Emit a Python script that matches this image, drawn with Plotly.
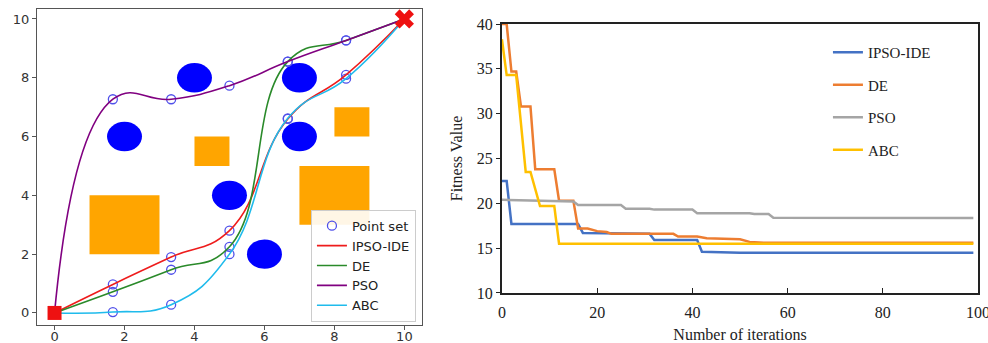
import plotly.graph_objects as go

# ---------------- Left panel data (path planning) ----------------
wp_x = [0, 1.667, 3.333, 5.0, 6.667, 8.333, 10]
ipso_y = [0, 0.97, 1.90, 2.80, 6.60, 8.10, 10]
de_y = [0, 0.72, 1.47, 2.25, 8.55, 9.27, 10]
pso_y = [0, 7.27, 7.27, 7.73, 8.55, 9.27, 10]
abc_y = [0, 0.03, 0.28, 2.00, 6.62, 7.97, 10]

circle_cx = [2, 4, 5, 7, 7, 6]
circle_cy = [6, 8, 4, 8, 6, 2]
circle_r = [0.5, 0.5, 0.5, 0.5, 0.5, 0.5]

rect_x0 = [1, 4, 7, 8]
rect_x1 = [3, 5, 9, 9]
rect_y0 = [2, 5, 3, 6]
rect_y1 = [4, 6, 5, 7]

start_pt = (0, 0)
goal_pt = (10, 10)
left_ticks = [0, 2, 4, 6, 8, 10]

# ---------------- Right panel data (convergence) ----------------
ipso_it = [0, 1, 2, 16, 17, 31, 32, 41, 42, 50, 99]
ipso_fit = [22.5, 22.5, 17.7, 17.7, 16.7, 16.6, 15.9, 15.9, 14.6, 14.5, 14.5]

de_it = [0, 1, 2, 3, 4, 6, 7, 11, 12, 15, 16, 18, 20, 22, 23, 36, 37, 41, 43, 50, 52, 55, 99]
de_fit = [40, 40, 34.7, 34.7, 30.8, 30.8, 23.8, 23.8, 20.3, 20.3, 17.2, 17.2, 16.9, 16.8,
          16.6, 16.6, 16.3, 16.3, 16.1, 16.0, 15.7, 15.6, 15.6]

pso_it = [0, 10, 12, 15, 16, 25, 26, 31, 32, 40, 41, 52, 53, 56, 57, 99]
pso_fit = [20.4, 20.3, 20.2, 20.2, 19.8, 19.8, 19.4, 19.4, 19.3, 19.3, 18.9, 18.9, 18.8, 18.8, 18.4, 18.35]

abc_it = [0, 1, 3, 5, 6, 8, 11, 12, 99]
abc_fit = [38.3, 34.3, 34.3, 23.5, 23.5, 19.7, 19.7, 15.5, 15.5]

right_xticks = [0, 20, 40, 60, 80, 100]
right_yticks = [10, 15, 20, 25, 30, 35, 40]

fig = go.Figure()

# Left panel paths
path_series = [
    ("IPSO-IDE", ipso_y, "#ee1c1c"),
    ("DE", de_y, "#2a8a2a"),
    ("PSO", pso_y, "#800080"),
    ("ABC", abc_y, "#1fbbec"),
]

pts_x, pts_y = [], []
for _, ys, _ in path_series:
    pts_x += wp_x[1:-1]
    pts_y += ys[1:-1]

fig.add_trace(go.Scatter(
    x=pts_x, y=pts_y, mode="markers", name="Point set",
    marker=dict(symbol="circle-open", size=9, color="#5050ea", line=dict(width=1.3)),
    xaxis="x", yaxis="y", legend="legend"))

for name, ys, col in path_series:
    fig.add_trace(go.Scatter(
        x=wp_x, y=ys, mode="lines", name=name,
        line=dict(color=col, width=1.6, shape="spline", smoothing=1.3),
        xaxis="x", yaxis="y", legend="legend"))

fig.add_trace(go.Scatter(
    x=[start_pt[0]], y=[start_pt[1]], mode="markers", showlegend=False,
    marker=dict(symbol="square", size=14, color="#ee1111"), xaxis="x", yaxis="y"))
fig.add_trace(go.Scatter(
    x=[goal_pt[0]], y=[goal_pt[1]], mode="markers", showlegend=False,
    marker=dict(symbol="x", size=17, color="#ee1111"), xaxis="x", yaxis="y"))

shapes = []
for cx, cy, r in zip(circle_cx, circle_cy, circle_r):
    shapes.append(dict(type="circle", xref="x", yref="y", x0=cx - r, x1=cx + r,
                       y0=cy - r, y1=cy + r, fillcolor="#0000ff", line=dict(width=0),
                       layer="below"))
for x0, x1, y0, y1 in zip(rect_x0, rect_x1, rect_y0, rect_y1):
    shapes.append(dict(type="rect", xref="x", yref="y", x0=x0, x1=x1, y0=y0, y1=y1,
                       fillcolor="#ffa500", line=dict(width=0), layer="below"))

# Right panel convergence
conv_series = [
    ("IPSO-IDE", ipso_it, ipso_fit, "#4472c4"),
    ("DE", de_it, de_fit, "#ed7d31"),
    ("PSO", pso_it, pso_fit, "#a5a5a5"),
    ("ABC", abc_it, abc_fit, "#ffc000"),
]
for name, xs, ys, col in conv_series:
    fig.add_trace(go.Scatter(
        x=xs, y=ys, mode="lines", name=name, legendgroup=name,
        line=dict(color=col, width=2.5),
        xaxis="x2", yaxis="y2", legend="legend2"))

sans = "DejaVu Sans"
serif = "Liberation Serif"

fig.update_layout(
    width=988, height=343,
    margin=dict(l=0, r=0, t=0, b=0),
    paper_bgcolor="white", plot_bgcolor="white",
    shapes=shapes,
    xaxis=dict(domain=[0.0375, 0.427], range=[-0.5, 10.5], tickvals=left_ticks,
               automargin=False, ticklabelstandoff=-5, ticklabeloverflow="allow",
               showgrid=False, zeroline=False, showline=True, mirror=True,
               linecolor="#555", linewidth=1.3, ticks="outside", ticklen=4,
               tickcolor="#555", tickfont=dict(family=sans, size=13, color="#333"),
               anchor="y"),
    yaxis=dict(domain=[0.0525, 0.9738], range=[-0.41, 10.34], tickvals=left_ticks,
               automargin=False,
               showgrid=False, zeroline=False, showline=True, mirror=True,
               linecolor="#555", linewidth=1.3, ticks="outside", ticklen=4,
               tickcolor="#555", tickfont=dict(family=sans, size=13, color="#333"),
               anchor="x"),
    xaxis2=dict(domain=[0.508, 0.990], range=[0, 100], tickvals=right_xticks,
                automargin=False, ticklabeloverflow="allow", ticklabelstandoff=4,
                showgrid=False, zeroline=False, showline=True, mirror=True,
                linecolor="#222", linewidth=1.8, ticks="inside", ticklen=5,
                tickcolor="#222", tickfont=dict(family=serif, size=16, color="#222"),
                title=dict(text="Number of iterations", standoff=9,
                           font=dict(family=serif, size=16, color="#222")),
                anchor="y2"),
    yaxis2=dict(domain=[0.1458, 0.930], range=[10, 40], tickvals=right_yticks,
                automargin=False,
                showgrid=False, zeroline=False, showline=True, mirror=True,
                linecolor="#222", linewidth=1.8, ticks="outside", ticklen=4,
                tickcolor="#222", tickfont=dict(family=serif, size=16, color="#222"),
                title=dict(text="Fitness Value", standoff=10,
                           font=dict(family=serif, size=16, color="#222")),
                anchor="x2"),
    legend=dict(x=0.421, y=0.062, xanchor="right", yanchor="bottom",
                bgcolor="rgba(255,255,255,0.9)", bordercolor="#cccccc", borderwidth=1,
                font=dict(family=sans, size=13, color="#222"), itemwidth=30,
                tracegroupgap=0),
    legend2=dict(x=0.838, y=0.895, xanchor="left", yanchor="top",
                 bgcolor="rgba(0,0,0,0)", borderwidth=0, traceorder="grouped",
                 font=dict(family=serif, size=15, color="#222"), itemwidth=30,
                 tracegroupgap=10),
)

fig.write_html("out.html")
